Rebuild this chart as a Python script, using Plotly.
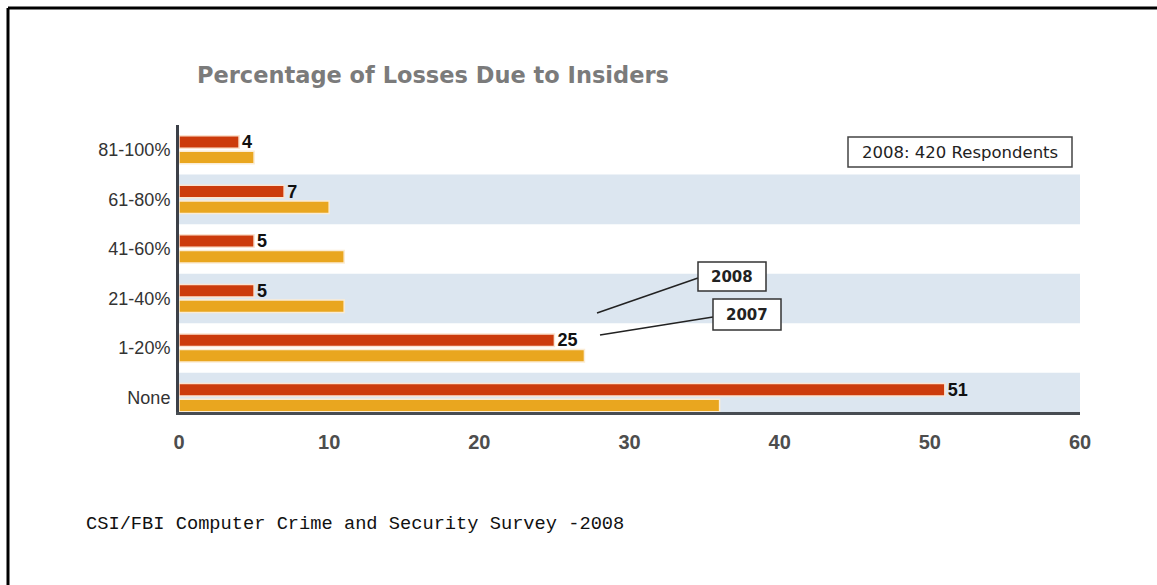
import plotly.graph_objects as go

# Survey data: share of losses attributed to insiders
categories = ["None", "1-20%", "21-40%", "41-60%", "61-80%", "81-100%"]
values_2008 = [51, 25, 5, 5, 7, 4]
values_2007 = [36, 27, 11, 11, 10, 5]
x_ticks = [0, 10, 20, 30, 40, 50, 60]

W, H = 1157, 585
L, R, T, B = 179, 77, 125, 173
PW, PH = W - L - R, H - T - B


def px(x):
    return (x - L) / PW


def py(y):
    return (H - B - y) / PH


RED = "#cc3b0c"
GOLD = "#e9a61f"
BAND = "#dce6f0"

fig = go.Figure()
fig.add_trace(go.Bar(
    y=categories, x=values_2007, orientation="h", name="2007",
    marker=dict(color=GOLD, line=dict(color="#fbecd4", width=1.5)),
    hoverinfo="x+y",
))
fig.add_trace(go.Bar(
    y=categories, x=values_2008, orientation="h", name="2008",
    marker=dict(color=RED, line=dict(color="#fbe3d0", width=1.5)),
    text=values_2008, texttemplate="<b>%{text}</b>", textposition="outside",
    constraintext="none",
    textfont=dict(family="Arial, Liberation Sans", size=18, color="#111111"),
    cliponaxis=False, hoverinfo="x+y",
))

shapes = []
# alternating row bands
for i in range(0, len(categories), 2):
    shapes.append(dict(type="rect", xref="x", yref="y", x0=0, x1=60,
                       y0=i - 0.5, y1=i + 0.5, fillcolor=BAND,
                       line=dict(width=0), layer="below"))

# outer frame (top and left edges)
shapes.append(dict(type="line", xref="paper", yref="paper",
                   x0=px(8), x1=px(W + 10), y0=py(8), y1=py(8),
                   line=dict(color="black", width=3)))
shapes.append(dict(type="line", xref="paper", yref="paper",
                   x0=px(8), x1=px(8), y0=py(8), y1=py(H + 10),
                   line=dict(color="black", width=3)))

# respondents box
shapes.append(dict(type="rect", xref="paper", yref="paper",
                   x0=px(848), x1=px(1072), y0=py(137), y1=py(167),
                   fillcolor="white", line=dict(color="#444444", width=1.5)))

# series callouts
shapes.append(dict(type="line", xref="paper", yref="paper",
                   x0=px(597), y0=py(313), x1=px(698), y1=py(278),
                   line=dict(color="#222222", width=1.5)))
shapes.append(dict(type="line", xref="paper", yref="paper",
                   x0=px(600), y0=py(335), x1=px(713), y1=py(317),
                   line=dict(color="#222222", width=1.5)))
shapes.append(dict(type="rect", xref="paper", yref="paper",
                   x0=px(698), x1=px(766), y0=py(262), y1=py(291),
                   fillcolor="white", line=dict(color="#333333", width=1.5)))
shapes.append(dict(type="rect", xref="paper", yref="paper",
                   x0=px(713), x1=px(781), y0=py(299), y1=py(330),
                   fillcolor="white", line=dict(color="#333333", width=1.5)))

annotations = [
    dict(text="<b>Percentage of Losses Due to Insiders</b>", xref="paper", yref="paper",
         x=px(195), y=py(75), xanchor="left", yanchor="middle", showarrow=False,
         font=dict(family="DejaVu Sans", size=22.5, color="#7b7b7b")),
    dict(text="2008: 420 Respondents", xref="paper", yref="paper",
         x=px(960), y=py(152), xanchor="center", yanchor="middle", showarrow=False,
         font=dict(family="DejaVu Sans", size=16.5, color="#222222")),
    dict(text="<b>2008</b>", xref="paper", yref="paper",
         x=px(732), y=py(276.5), xanchor="center", yanchor="middle", showarrow=False,
         font=dict(family="DejaVu Sans", size=15, color="#222222")),
    dict(text="<b>2007</b>", xref="paper", yref="paper",
         x=px(747), y=py(314.5), xanchor="center", yanchor="middle", showarrow=False,
         font=dict(family="DejaVu Sans", size=15, color="#222222")),
    dict(text="CSI/FBI Computer Crime and Security Survey -2008", xref="paper", yref="paper",
         x=px(84), y=py(524), xanchor="left", yanchor="middle", showarrow=False,
         font=dict(family="Liberation Mono", size=18.7, color="#111111")),
]

fig.update_layout(
    width=W, height=H,
    margin=dict(l=L, r=R, t=T, b=B),
    paper_bgcolor="white", plot_bgcolor="white",
    barmode="group", bargap=0.37, bargroupgap=0.2,
    showlegend=False,
    shapes=shapes, annotations=annotations,
    xaxis=dict(range=[0, 60], tickvals=x_ticks, showgrid=False, zeroline=False,
               showline=True, linecolor="#474c52", linewidth=3,
               tickfont=dict(family="Arial, Liberation Sans", size=20, color="#4d4d4d",
                             weight="bold"),
               ticklabelstandoff=10, fixedrange=True),
    yaxis=dict(categoryorder="array", categoryarray=categories,
               range=[-0.29, 5.5], showgrid=False, zeroline=False,
               showline=True, linecolor="#3c4048", linewidth=3,
               tickfont=dict(family="Arial, Liberation Sans", size=18, color="#333333"),
               ticklabelstandoff=2, fixedrange=True),
    font=dict(family="Arial, Liberation Sans"),
)

fig.write_html("out.html")
